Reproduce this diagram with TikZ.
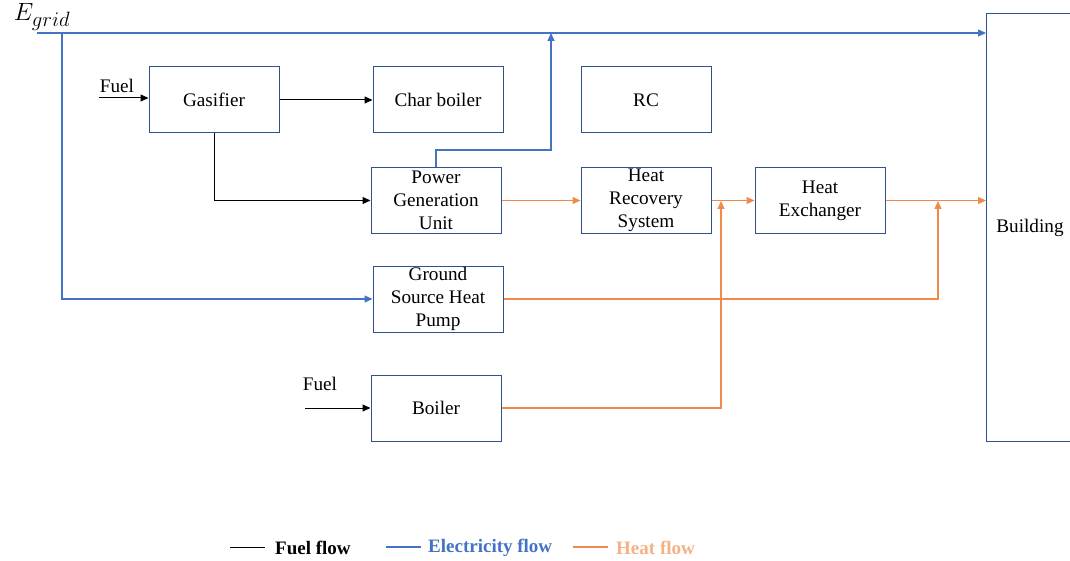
\documentclass[tikz,border=0pt]{standalone}
\usepackage{fontspec}
\setmainfont{Liberation Serif}
\usetikzlibrary{arrows.meta}
\definecolor{elecblue}{HTML}{4472C4}
\definecolor{boxblue}{HTML}{2F528F}
\definecolor{heatorange}{HTML}{F08A4B}
\definecolor{heatlabel}{HTML}{F4B183}
\tikzset{
  blk/.style={draw=boxblue, line width=1pt, minimum width=130pt, minimum height=66pt, align=center, inner sep=1pt, font=\fontsize{19.2}{23}\selectfont},
  tip/.style={-{Triangle[length=8pt,width=7pt]}},
  fuelln/.style={draw=black, line width=1pt},
  elecln/.style={draw=elecblue, line width=1.2pt},
  heatln/.style={draw=heatorange, line width=1.3pt},
  lbl/.style={font=\fontsize{19.2}{22}\selectfont, inner sep=0pt},
  leg/.style={font=\fontsize{19}{20}\selectfont\bfseries, inner sep=0pt, anchor=west}
}
\begin{document}
\begin{tikzpicture}[x=1pt,y=-1pt]
\useasboundingbox (0,0) rectangle (1070,561);
% building (extends beyond right edge)
\begin{scope}
\clip (0,0) rectangle (1070,561);
\node[draw=boxblue, line width=1pt, minimum width=90pt, minimum height=428pt, anchor=north west, inner sep=0pt] (bld) at (986,13) {};
\end{scope}
\node[lbl] (bldtxt) at (1030,228) {Building};
% boxes
\node[blk] (gas) at (214,100) {Gasifier};
\node[blk] (char) at (438,100) {Char boiler};
\node[blk] (rc) at (646,100) {RC};
\node[blk] (pgu) at (436,200.5) {Power\\Generation\\Unit};
\node[blk] (hrs) at (646,200.5) {Heat\\Recovery\\System};
\node[blk] (hx) at (820,200.5) {Heat\\Exchanger};
\node[blk] (gshp) at (438,299) {Ground\\Source Heat\\Pump};
\node[blk] (boil) at (436,408) {Boiler};
% labels
\node[font=\fontsize{30}{32}\selectfont, inner sep=0pt] (egrid) at (42,17) {$E_{grid}$};
\node[lbl] (fuel1) at (117,86) {Fuel};
\node[lbl] (fuel2) at (320,384) {Fuel};
% coordinates
\coordinate (eg) at (37,33);
\coordinate (gv) at (62,33);
\coordinate (pv) at (551,33);
\coordinate (f1) at (99,98);
\coordinate (f2) at (305,408);
\coordinate (j1) at (721,201);
\coordinate (j2) at (938,201);
% electricity
\draw[elecln, tip] (eg) -- (eg -| bld.west);
\draw[elecln, tip] (gv) |- (gshp.west);
\draw[elecln, tip] (pgu.north) -- ++(0,-17) -| (pv);
% fuel
\draw[fuelln, tip] (f1) -- (gas.west |- f1);
\draw[fuelln, tip] (f2) -- (boil.west |- f2);
\draw[fuelln, tip] (gas.east) -- (char.west);
\draw[fuelln, tip] (gas.south) |- (pgu.west);
% heat
\draw[heatln, tip] (pgu.east) -- (hrs.west);
\draw[heatln, tip] (hrs.east) -- (hx.west);
\draw[heatln, tip] (hx.east) -- (hx.east -| bld.west);
\draw[heatln, tip] (boil.east) -| (j1);
\draw[heatln, tip] (gshp.east) -| (j2);
% legend
\coordinate (la1) at (230,547); \coordinate (la2) at (265,547);
\coordinate (lb1) at (386,547); \coordinate (lb2) at (421,547);
\coordinate (lc1) at (573,547); \coordinate (lc2) at (608,547);
\draw[fuelln] (la1) -- (la2);
\draw[elecln] (lb1) -- (lb2);
\draw[heatln] (lc1) -- (lc2);
\node[leg] (lfuel) at (275,548) {Fuel flow};
\node[leg, text=elecblue] (lelec) at (428,548) {Electricity flow};
\node[leg, text=heatlabel] (lheat) at (616,548) {Heat flow};
\end{tikzpicture}
\end{document}
